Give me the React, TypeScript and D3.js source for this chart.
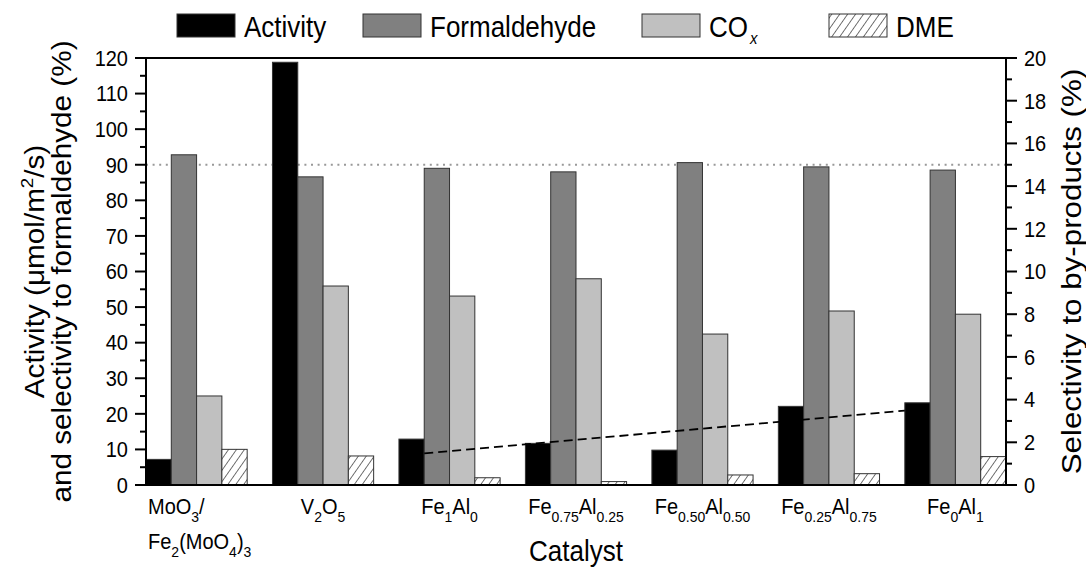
import React from "react";
import * as d3 from "d3";

// Catalysts on the x axis; "_{..}" marks a subscript, "|" a line break.
const catalysts = [
  "MoO_{3}/|Fe_{2}(MoO_{4})_{3}",
  "V_{2}O_{5}",
  "Fe_{1}Al_{0}",
  "Fe_{0.75}Al_{0.25}",
  "Fe_{0.50}Al_{0.50}",
  "Fe_{0.25}Al_{0.75}",
  "Fe_{0}Al_{1}",
];

// Left axis: activity (µmol/m²/s) and formaldehyde selectivity (%)
const activity = [7.2, 118.8, 12.9, 11.7, 9.8, 22.1, 23.1];
const formaldehyde = [92.8, 86.6, 89.0, 88.0, 90.6, 89.4, 88.5];
// Right axis: by-product selectivity (%)
const cox = [4.17, 9.32, 8.85, 9.66, 7.07, 8.15, 8.0];
const dme = [1.67, 1.36, 0.34, 0.16, 0.47, 0.53, 1.33];

// Activity trend across the Fe/Al series (left-axis values at its two ends)
const trendEnds = [
  { catalyst: "Fe_{1}Al_{0}", value: 8.9 },
  { catalyst: "Fe_{0}Al_{1}", value: 20.9 },
];
const formaldehydeRef = 90;

const leftTicks = d3.range(0, 121, 10);
const leftMinor = d3.range(5, 120, 10);
const rightTicks = d3.range(0, 21, 2);
const rightMinor = d3.range(1, 20, 2);

const seriesKeys = ["activity", "formaldehyde", "cox", "dme"];
const legendItems = [
  { key: "activity", label: "Activity", sub: "" },
  { key: "formaldehyde", label: "Formaldehyde", sub: "" },
  { key: "cox", label: "CO", sub: "x" },
  { key: "dme", label: "DME", sub: "" },
];

const W = 1086;
const H = 568;
const M = { left: 146, right: 1006, top: 58, bottom: 485 };
const FONT = "'Liberation Sans', Arial, Helvetica, sans-serif";
const STRETCH = 1.1;

const fills: Record<string, string> = {
  activity: "#000000",
  formaldehyde: "#808080",
  cox: "#c0c0c0",
  dme: "url(#hatch)",
};

function parseRich(s: string) {
  const parts: { t: string; sub: boolean }[] = [];
  const re = /_\{([^}]*)\}/g;
  let last = 0;
  let m: RegExpExecArray | null;
  while ((m = re.exec(s))) {
    if (m.index > last) parts.push({ t: s.slice(last, m.index), sub: false });
    parts.push({ t: m[1], sub: true });
    last = m.index + m[0].length;
  }
  if (last < s.length) parts.push({ t: s.slice(last), sub: false });
  return parts;
}

function RichText({
  x,
  y,
  text,
  size,
  subSize,
  anchor,
}: {
  x: number;
  y: number;
  text: string;
  size: number;
  subSize: number;
  anchor: string;
}) {
  const parts = parseRich(text);
  const shift = size * 0.38;
  let cur = 0;
  return (
    <text
      transform={`translate(${x},${y}) scale(1,${STRETCH})`}
      fontSize={size}
      fontFamily={FONT}
      textAnchor={anchor}
      fill="#000"
    >
      {parts.map((p, i) => {
        const target = p.sub ? shift : 0;
        const dy = target - cur;
        cur = target;
        return (
          <tspan key={i} dy={dy} fontSize={p.sub ? subSize : size}>
            {p.t}
          </tspan>
        );
      })}
    </text>
  );
}

export default function App() {
  const x = d3
    .scaleBand<string>()
    .domain(catalysts)
    .range([M.left, M.right])
    .paddingInner(0.2)
    .paddingOuter(0);
  const xs = d3
    .scaleBand<string>()
    .domain(seriesKeys)
    .range([0, x.bandwidth()]);
  const yL = d3.scaleLinear().domain([0, 120]).range([M.bottom, M.top]);
  const yR = d3.scaleLinear().domain([0, 20]).range([M.bottom, M.top]);

  const values: Record<string, number[]> = { activity, formaldehyde, cox, dme };
  const scaleFor: Record<string, d3.ScaleLinear<number, number>> = {
    activity: yL,
    formaldehyde: yL,
    cox: yR,
    dme: yR,
  };

  const trendLine = d3
    .line<{ x: number; y: number }>()
    .x((d) => d.x)
    .y((d) => d.y);
  const trendPts = [
    {
      x: (x(trendEnds[0].catalyst) as number) + xs("activity")! + xs.bandwidth(),
      y: yL(trendEnds[0].value),
    },
    {
      x: (x(trendEnds[1].catalyst) as number) + xs("activity")!,
      y: yL(trendEnds[1].value),
    },
  ];

  const legendX = [177, 363, 642, 829];
  const plotMidY = (M.top + M.bottom) / 2;

  return (
    <svg
      width={W}
      height={H}
      style={{ position: "absolute", left: 0, top: 0, background: "#fff" }}
    >
      <defs>
        <pattern
          id="hatch"
          patternUnits="userSpaceOnUse"
          width={6.5}
          height={6.5}
          patternTransform="rotate(35)"
        >
          <rect width={6.5} height={6.5} fill="#fff" />
          <line x1={0} y1={0} x2={0} y2={6.5} stroke="#000" strokeWidth={1.1} />
        </pattern>
      </defs>

      {/* legend */}
      {legendItems.map((d, i) => (
        <g key={d.key}>
          <rect
            x={legendX[i]}
            y={14}
            width={58}
            height={23}
            fill={fills[d.key]}
            stroke="#333"
            strokeWidth={1}
          />
          <text
            transform={`translate(${legendX[i] + 67},${36.5}) scale(1,${STRETCH})`}
            fontSize={26}
            fontFamily={FONT}
          >
            {d.label}
            {d.sub && (
              <tspan fontSize={15} fontStyle="italic" dy={7} dx={2}>
                {d.sub}
              </tspan>
            )}
          </text>
        </g>
      ))}

      {/* reference line */}
      <line
        x1={M.left}
        x2={M.right}
        y1={yL(formaldehydeRef)}
        y2={yL(formaldehydeRef)}
        stroke="#999"
        strokeWidth={2}
        strokeDasharray="2,4.6"
      />

      {/* bars */}
      {catalysts.map((c, i) => (
        <g key={c} transform={`translate(${x(c)},0)`}>
          {seriesKeys.map((k) => {
            const y = scaleFor[k];
            const v = values[k][i];
            return (
              <rect
                key={k}
                x={xs(k)}
                y={y(v)}
                width={xs.bandwidth()}
                height={y(0) - y(v)}
                fill={fills[k]}
                stroke="#333"
                strokeWidth={1}
              />
            );
          })}
        </g>
      ))}

      {/* activity trend */}
      <path
        d={trendLine(trendPts) || ""}
        fill="none"
        stroke="#000"
        strokeWidth={1.8}
        strokeDasharray="9,5"
      />

      {/* frame */}
      <rect
        x={M.left}
        y={M.top}
        width={M.right - M.left}
        height={M.bottom - M.top}
        fill="none"
        stroke="#000"
        strokeWidth={2}
      />

      {/* left axis */}
      {leftTicks.map((t) => (
        <g key={`l${t}`}>
          <line x1={M.left - 11} x2={M.left} y1={yL(t)} y2={yL(t)} stroke="#000" strokeWidth={2} />
          <text
            transform={`translate(${M.left - 18},${yL(t) + 7.8}) scale(1,${STRETCH})`}
            fontSize={20}
            fontFamily={FONT}
            textAnchor="end"
          >
            {t}
          </text>
        </g>
      ))}
      {leftMinor.map((t) => (
        <line key={`lm${t}`} x1={M.left - 6} x2={M.left} y1={yL(t)} y2={yL(t)} stroke="#000" strokeWidth={2} />
      ))}

      {/* right axis */}
      {rightTicks.map((t) => (
        <g key={`r${t}`}>
          <line x1={M.right} x2={M.right + 11} y1={yR(t)} y2={yR(t)} stroke="#000" strokeWidth={2} />
          <text
            transform={`translate(${M.right + 18},${yR(t) + 7.8}) scale(1,${STRETCH})`}
            fontSize={20}
            fontFamily={FONT}
            textAnchor="start"
          >
            {t}
          </text>
        </g>
      ))}
      {rightMinor.map((t) => (
        <line key={`rm${t}`} x1={M.right} x2={M.right + 6} y1={yR(t)} y2={yR(t)} stroke="#000" strokeWidth={2} />
      ))}

      {/* category labels */}
      {catalysts.map((c) => {
        const lines = c.split("|");
        const multi = lines.length > 1;
        const bx = x(c) as number;
        return lines.map((ln, j) => (
          <RichText
            key={`${c}-${j}`}
            x={multi ? bx + 2 : bx + x.bandwidth() / 2}
            y={514 + j * 35}
            text={ln}
            size={20}
            subSize={14}
            anchor={multi ? "start" : "middle"}
          />
        ));
      })}

      {/* axis titles */}
      <text
        transform={`translate(${(M.left + M.right) / 2},${561}) scale(1,${STRETCH})`}
        fontSize={26}
        fontFamily={FONT}
        textAnchor="middle"
      >
        Catalyst
      </text>
      <text
        transform={`translate(44,${plotMidY}) rotate(-90) scale(${STRETCH},1)`}
        fontSize={27}
        fontFamily={FONT}
        textAnchor="middle"
      >
        Activity (μmol/m
        <tspan fontSize={17} dy={-11}>
          2
        </tspan>
        <tspan dy={11}>/s)</tspan>
      </text>
      <text
        transform={`translate(71,${plotMidY}) rotate(-90) scale(${STRETCH},1)`}
        fontSize={27}
        fontFamily={FONT}
        textAnchor="middle"
      >
        and selectivity to formaldehyde (%)
      </text>
      <text
        transform={`translate(1081,${plotMidY}) rotate(-90) scale(${STRETCH},1)`}
        fontSize={28.5}
        fontFamily={FONT}
        textAnchor="middle"
      >
        Selectivity to by-products (%)
      </text>
    </svg>
  );
}
